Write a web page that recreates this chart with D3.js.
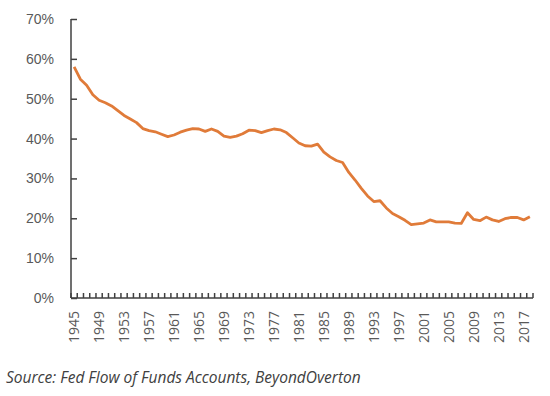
<!DOCTYPE html>
<meta charset='utf-8'>
<head>
  <title>Household equity share</title>
</head>

<style>
body {
  margin: 0;
  background: #fff;
  font-family: "Open Sans", sans-serif;
}

.axis text {
  fill: #595959;
  font-size: 14px;
}

.axis path, .axis line {
  stroke: #404040;
  stroke-width: 1.5px;
}

.series {
  fill: none;
  stroke: #E07B39;
  stroke-width: 2.8px;
  stroke-linejoin: round;
}

.source {
  font-size: 15.5px;
  font-style: italic;
  fill: #404040;
}
</style>

<body>
  <svg width='550' height='396'></svg>

  <script src='https://cdn.jsdelivr.net/npm/d3@7/dist/d3.min.js'></script>
  <script>
var years = d3.range(1945, 2019);
var shares = [
  58.0, 54.9, 53.4, 51.0, 49.6, 49.0, 48.2, 47.0, 45.8, 44.9,
  44.0, 42.5, 42.0, 41.7, 41.1, 40.5, 40.9, 41.6, 42.1, 42.5,
  42.4, 41.8, 42.4, 41.8, 40.6, 40.3, 40.6, 41.2, 42.1, 42.0,
  41.5, 42.0, 42.4, 42.2, 41.5, 40.2, 38.9, 38.2, 38.1, 38.6,
  36.6, 35.4, 34.5, 34.0, 31.5, 29.6, 27.5, 25.6, 24.2, 24.4,
  22.6, 21.2, 20.4, 19.5, 18.4, 18.6, 18.8, 19.6, 19.1, 19.1,
  19.1, 18.8, 18.7, 21.4, 19.7, 19.4, 20.3, 19.6, 19.2, 19.9,
  20.2, 20.2, 19.6, 20.4
];
var yTicks = [0, 10, 20, 30, 40, 50, 60, 70];
var labelYears = d3.range(1945, 2019, 4);
var sourceText = 'Source: Fed Flow of Funds Accounts, BeyondOverton';

var plotLeft = 71, plotRight = 533, plotTop = 19, plotBottom = 298;
var svg = d3.select('svg');

var x = d3.scaleBand().domain(years).range([plotLeft, plotRight]).padding(0);
var y = d3.scaleLinear().domain([0, 70]).range([plotBottom, plotTop]);

// y axis, ticks point inward
var yAxis = svg.append('g')
  .attr('class', 'axis y')
  .attr('transform', 'translate(' + plotLeft + ',0)')
  .call(d3.axisRight(y).tickValues(yTicks).tickSize(6)
    .tickFormat(function(d) { return d + '%'; }));
yAxis.select('.domain').attr('d', 'M0,' + plotTop + 'V' + plotBottom);
yAxis.selectAll('text')
  .attr('x', -17)
  .attr('text-anchor', 'end');

// x axis: tick marks at category boundaries, pointing up
var bounds = years.map(function(d) { return x(d); }).concat([plotRight]);
var xAxis = svg.append('g')
  .attr('class', 'axis x')
  .attr('transform', 'translate(0,' + plotBottom + ')');
xAxis.append('path')
  .attr('d', 'M' + plotLeft + ',0H' + plotRight);
xAxis.selectAll('line')
  .data(bounds)
  .enter()
  .append('line')
  .attr('x1', function(d) { return d; })
  .attr('x2', function(d) { return d; })
  .attr('y1', 0)
  .attr('y2', -5);
xAxis.selectAll('text')
  .data(labelYears)
  .enter()
  .append('text')
  .attr('transform', function(d) {
    return 'translate(' + (x(d) + x.bandwidth() / 2 + 5) + ',13) rotate(-90)';
  })
  .attr('text-anchor', 'end')
  .text(function(d) { return d; });

var line = d3.line()
  .x(function(d, i) { return x(years[i]) + x.bandwidth() / 2; })
  .y(function(d) { return y(d); });

svg.append('path')
  .datum(shares)
  .attr('class', 'series')
  .attr('d', line);

svg.append('text')
  .attr('class', 'source')
  .attr('x', 6)
  .attr('y', 383)
  .text(sourceText);
  </script>
</body>
</html>
